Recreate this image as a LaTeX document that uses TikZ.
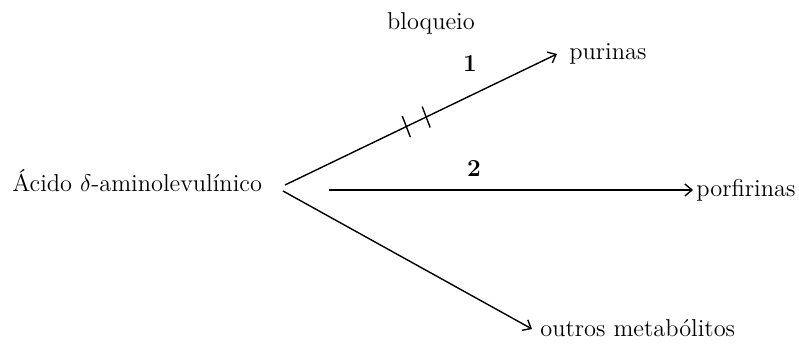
\documentclass[tikz,border=0pt]{standalone}
\usetikzlibrary{arrows.meta,calc}
\begin{document}
\begin{tikzpicture}[x=0.5pt,y=-0.5pt,
  lbl/.style={inner sep=0pt,font=\fontsize{12.2}{14}\selectfont},
  num/.style={inner sep=0pt,font=\fontsize{12.2}{14}\selectfont\bfseries},
  conn/.style={line width=0.7pt,-{Straight Barb[length=3.5pt,width=6pt]}},
  tick/.style={line width=0.7pt}]
\useasboundingbox (0,0) rectangle (799,347);
% text nodes
\node[lbl,anchor=base west] (ala) at (12,192) {Ácido $\delta$-aminolevulínico};
\node[lbl,anchor=base west] (pur) at (569,60) {purinas};
\node[lbl,anchor=base west] (por) at (696,197) {porfirinas};
\node[lbl,anchor=base west] (out) at (540,337) {outros metabólitos};
\node[lbl,anchor=base] (blq) at (431,30) {bloqueio};
\node[num,anchor=base] (n1) at (470,72) {1};
\node[num,anchor=base] (n2) at (474,177) {2};
% connector ends
\coordinate (s1) at (285,185);
\coordinate (s2) at (329,190);
\coordinate (s3) at (283,191);
\coordinate (e1) at (557,54);
\coordinate (e2) at (693,190);
\coordinate (e3) at (532,329);
\draw[conn] (s1) -- (e1);
\draw[conn] (s2) -- (e2);
\draw[conn] (s3) -- (e3);
% blocking ticks
\coordinate (t1) at ($(s1)!0.446!(e1)$);
\coordinate (t2) at ($(s1)!0.519!(e1)$);
\draw[tick] ($(t1)+(-4,-10.5)$) -- ($(t1)+(4,10.5)$);
\draw[tick] ($(t2)+(-4,-10.5)$) -- ($(t2)+(4,10.5)$);
\end{tikzpicture}
\end{document}
